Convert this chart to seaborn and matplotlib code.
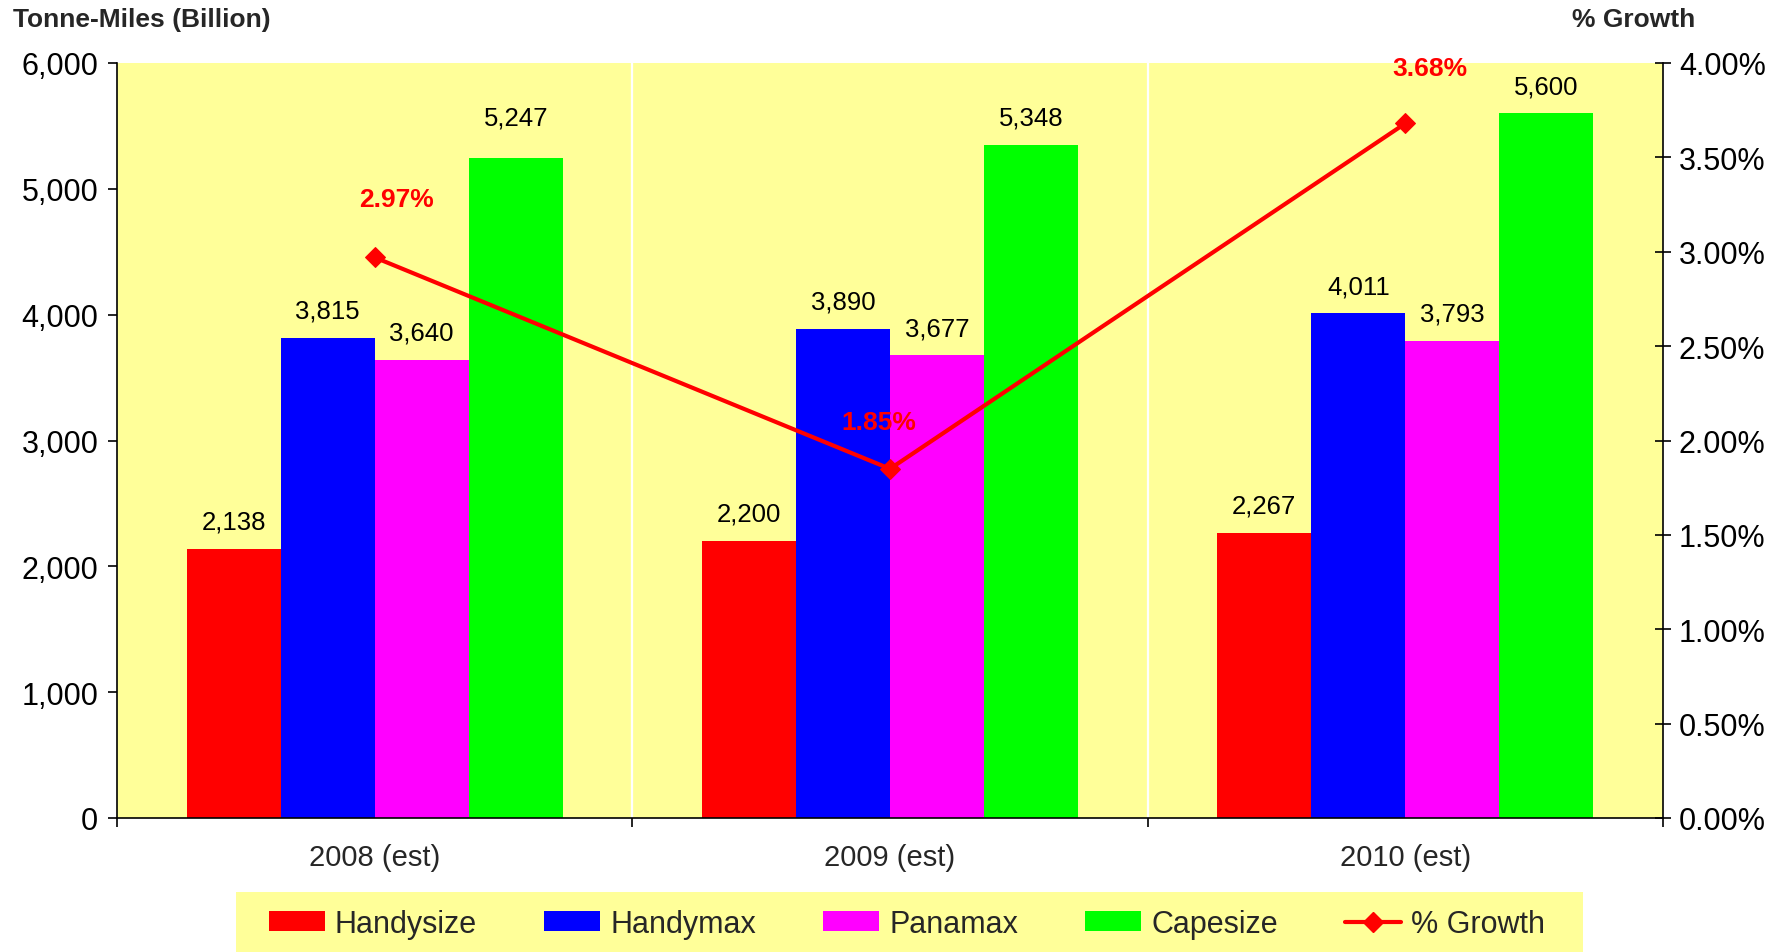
import matplotlib
matplotlib.use("Agg")
import matplotlib.pyplot as plt
from matplotlib.patches import Patch, Rectangle
from matplotlib.lines import Line2D
from matplotlib.ticker import FuncFormatter, FixedLocator
import seaborn as sns
import pandas as pd

# ---- data ----
years = ["2008 (est)", "2009 (est)", "2010 (est)"]
ship_types = ["Handysize", "Handymax", "Panamax", "Capesize"]
handysize = [2138, 2200, 2267]
handymax = [3815, 3890, 4011]
panamax = [3640, 3677, 3793]
capesize = [5247, 5348, 5600]
growth_pct = [2.97, 1.85, 3.68]

# ---- styles ----
colors = ["#FF0000", "#0000FF", "#FF00FF", "#00FF00"]
bg = "#FFFF99"
growth_label_offsets = [(16, 42), (-8, 34), (18, 40)]  # points
extra_label_pad = {(3, 0): 9}  # (series, category) -> extra points

sns.set_style("white")
plt.rcParams["font.family"] = ["Liberation Sans", "DejaVu Sans"]

df = pd.DataFrame({
    "year": years * 4,
    "type": [t for t in ship_types for _ in years],
    "value": handysize + handymax + panamax + capesize,
})

W, H = 1778, 953
fig = plt.figure(figsize=(W / 100, H / 100), dpi=100)
ax = fig.add_axes([117 / W, 1 - 819 / H, (1663 - 117) / W, (819 - 64) / H])
ax.set_facecolor(bg)

sns.barplot(data=df, x="year", y="value", hue="type", order=years,
            hue_order=ship_types, palette=colors, width=0.73, saturation=1,
            errorbar=None, linewidth=0, legend=False, ax=ax, zorder=2)

for si, cont in enumerate(ax.containers):
    for ci, b in enumerate(cont):
        pad = 11 + extra_label_pad.get((si, ci), 0)
        ax.annotate(f"{int(round(b.get_height())):,}",
                    (b.get_x() + b.get_width() / 2, b.get_height()),
                    xytext=(0, pad), textcoords="offset points",
                    ha="center", va="bottom", fontsize=18.5, color="black")

ax.set_ylim(0, 6000)
ax.set_yticks(range(0, 6001, 1000))
ax.yaxis.set_major_formatter(FuncFormatter(lambda v, p: f"{v:,.0f}"))
ax.set_xlim(-0.5, 2.5)
for xb in [0.5, 1.5]:
    ax.axvline(xb, color="white", lw=1.6, zorder=0.5)

ax.set_xlabel("")
ax.set_ylabel("")
for s in ["top", "right"]:
    ax.spines[s].set_visible(False)
for s in ["left", "bottom"]:
    ax.spines[s].set_color("black")
    ax.spines[s].set_linewidth(1.2)
ax.tick_params(axis="y", direction="out", length=6.5, width=1.2,
               labelsize=22, pad=7, left=True, colors="black")
ax.tick_params(axis="x", which="major", length=0, labelsize=21, pad=18,
               bottom=True)
ax.xaxis.set_minor_locator(FixedLocator([-0.5, 0.5, 1.5, 2.5]))
ax.tick_params(axis="x", which="minor", direction="out", length=6.5,
               width=1.2, bottom=True, color="black")

# ---- growth line on secondary axis ----
ax2 = ax.twinx()
x_idx = list(range(len(years)))
sns.lineplot(x=x_idx, y=growth_pct, ax=ax2, color="#FF0000", linewidth=3,
             marker="D", markersize=10, markeredgecolor="#FF0000",
             zorder=5)
ax2.set_ylim(0, 4)
ax2.set_yticks([i * 0.5 for i in range(9)])
ax2.yaxis.set_major_formatter(FuncFormatter(lambda v, p: f"{v:.2f}%"))
ax2.set_xlim(-0.5, 2.5)
ax.set_xlim(-0.5, 2.5)
ax2.set_ylabel("")
ax2.set_xlabel("")
for s in ["top", "left", "bottom"]:
    ax2.spines[s].set_visible(False)
ax2.spines["right"].set_color("black")
ax2.spines["right"].set_linewidth(1.2)
ax2.tick_params(axis="y", direction="inout", length=11, width=1.2,
                labelsize=22, pad=6, right=True, colors="black")

for xi, g, off in zip(x_idx, growth_pct, growth_label_offsets):
    ax2.annotate(f"{g:.2f}%", (xi, g), xytext=off, textcoords="offset points",
                 ha="center", va="center", fontsize=19, fontweight="bold",
                 color="#FF0000")

# ---- titles ----
fig.text(13 / W, 1 - 20 / H, "Tonne-Miles (Billion)", ha="left", va="center",
         fontsize=19, fontweight="bold")
fig.text(1695 / W, 1 - 20 / H, "% Growth", ha="right", va="center",
         fontsize=19, fontweight="bold")

# ---- legend ----
fig.patches.append(Rectangle((236 / W, 0), (1583 - 236) / W, 60 / H,
                             transform=fig.transFigure, facecolor=bg,
                             edgecolor="none", zorder=0))
handles = [Patch(facecolor=c, edgecolor="none") for c in colors]
handles.append(Line2D([], [], color="#FF0000", lw=3, marker="D",
                      markersize=10, markeredgecolor="#FF0000"))
labels = ship_types + ["% Growth"]
fig.legend(handles, labels, loc="center", bbox_to_anchor=(907 / W, 1 - 925 / H),
           ncol=5, frameon=False, fontsize=22, handlelength=1.83,
           handleheight=0.62, handletextpad=0.33, columnspacing=2.2)

fig.savefig("out.png", dpi=100)
